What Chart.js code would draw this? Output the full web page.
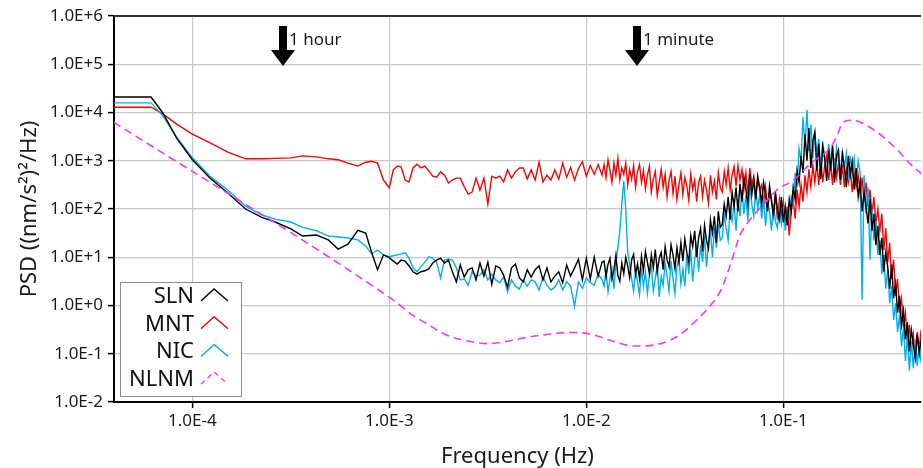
<!DOCTYPE html>
<html>
<head>
<meta charset="utf-8">
<title>PSD of three stations vs NLNM</title>
<script src="https://cdn.jsdelivr.net/npm/chart.js@4.4.0/dist/chart.umd.min.js"></script>
<style>
  html, body { margin: 0; padding: 0; background: #fff; }
  #chart { display: block; }
</style>
</head>
<body>
<canvas id="chart" width="923" height="468"></canvas>
<script>
// Frequency grid shared by the three stations, log10(Hz)
const freqExp = [
  -4.40, -4.21, -4.15, -4.08, -4.00, -3.91, -3.82, -3.73, -3.65, -3.58, -3.50, -3.44,
  -3.37, -3.31, -3.26, -3.21, -3.16, -3.12, -3.09, -3.06, -3.03, -3.00, -2.98, -2.96,
  -2.94, -2.92, -2.90, -2.88, -2.86, -2.84, -2.82, -2.80, -2.78, -2.76, -2.74, -2.72, -2.70,
  -2.68, -2.66, -2.64, -2.62, -2.60, -2.58, -2.56, -2.54, -2.52, -2.50, -2.48, -2.46, -2.44,
  -2.42, -2.40, -2.38, -2.36, -2.34, -2.32, -2.30, -2.28, -2.26, -2.24, -2.22, -2.20, -2.18,
  -2.16, -2.14, -2.12, -2.10, -2.08, -2.06, -2.04, -2.02, -2.00, -1.98, -1.96, -1.94, -1.92,
  -1.91, -1.90, -1.89, -1.88, -1.87, -1.86, -1.85, -1.84, -1.83, -1.82,
  -1.81, -1.80, -1.79, -1.78, -1.77, -1.76, -1.75, -1.74, -1.73, -1.72,
  -1.71, -1.70, -1.69, -1.68, -1.67, -1.66, -1.65, -1.64, -1.63, -1.62,
  -1.61, -1.60, -1.59, -1.58, -1.57, -1.56, -1.55, -1.54, -1.53, -1.52,
  -1.51, -1.50, -1.49, -1.48, -1.47, -1.46, -1.45, -1.44, -1.43, -1.42,
  -1.41, -1.40, -1.39, -1.38, -1.37, -1.36, -1.35, -1.34, -1.33, -1.32,
  -1.31, -1.30, -1.29, -1.28, -1.27, -1.26, -1.25, -1.24, -1.23, -1.22,
  -1.21, -1.20, -1.19, -1.18, -1.17, -1.16, -1.15, -1.14, -1.13, -1.12,
  -1.11, -1.10, -1.09, -1.08, -1.07, -1.06, -1.05, -1.04, -1.03, -1.02,
  -1.01, -1.00, -0.99, -0.98, -0.97, -0.96, -0.95, -0.94, -0.93, -0.92,
  -0.91, -0.90, -0.89, -0.88, -0.87, -0.86, -0.85, -0.84, -0.83, -0.82,
  -0.81, -0.80, -0.79, -0.78, -0.77, -0.76, -0.75, -0.74, -0.73, -0.72,
  -0.71, -0.70, -0.69, -0.68, -0.67, -0.66, -0.65, -0.64, -0.63, -0.62,
  -0.61, -0.60, -0.59, -0.58, -0.57, -0.56, -0.55, -0.54, -0.53, -0.52,
  -0.51, -0.50, -0.49, -0.48, -0.47, -0.46, -0.45, -0.44, -0.43, -0.42,
  -0.41, -0.40, -0.39, -0.38, -0.37, -0.36, -0.35, -0.34, -0.33, -0.32,
  -0.31, -0.30
];

// PSD, log10((nm/s^2)^2/Hz)
const slnExp = [
  4.32, 4.32, 3.99, 3.47, 3.02, 2.64, 2.33, 2.00, 1.83, 1.73, 1.59, 1.44,
  1.46, 1.36, 1.17, 1.27, 1.56, 1.50, 1.10, 0.74, 1.05, 0.99, 0.92, 0.86,
  0.94, 0.92, 0.82, 0.70, 0.65, 0.70, 0.72, 0.76, 0.88, 0.94, 0.98, 0.88, 0.94,
  0.70, 0.49, 0.84, 0.59, 0.74, 0.78, 0.53, 0.88, 0.61, 0.90, 0.44, 0.82, 0.78,
  0.63, 0.38, 0.78, 0.86, 0.57, 0.49, 0.74, 0.59, 0.74, 0.82, 0.53, 0.78, 0.49,
  0.61, 0.70, 0.47, 0.84, 0.61, 0.78, 0.96, 0.53, 0.98, 0.55, 1.00, 0.61, 0.90,
  0.92, 0.60, 0.85, 0.98, 0.55, 0.74, 1.04, 0.62, 0.50, 0.88,
  0.66, 1.00, 0.82, 0.58, 0.95, 1.06, 0.64, 0.86, 0.56, 1.02,
  0.72, 1.12, 0.90, 0.66, 1.05, 0.78, 1.16, 0.70, 0.98, 1.10,
  0.74, 1.22, 0.95, 0.80, 1.26, 1.05, 0.76, 1.20, 0.90, 1.30,
  0.92, 1.38, 1.10, 0.90, 1.45, 1.22, 1.55, 1.00, 1.40, 1.60,
  1.12, 1.66, 1.35, 1.18, 1.78, 1.50, 1.85, 1.30, 1.95, 1.62,
  1.68, 2.10, 1.85, 2.25, 1.78, 2.35, 2.05, 2.45, 1.95, 2.52,
  2.15, 2.66, 2.40, 2.10, 2.72, 2.30, 2.60, 2.20, 2.68, 2.45,
  2.10, 2.55, 2.30, 1.95, 2.48, 2.20, 1.85, 2.35, 2.00, 1.78,
  2.25, 1.72, 2.05, 1.66, 2.20, 1.95, 2.45, 2.20, 2.80, 2.55,
  3.10, 2.75, 3.55, 3.00, 3.68, 2.85, 3.40, 3.60, 2.80, 3.35,
  2.62, 3.30, 3.05, 2.58, 3.25, 2.80, 3.32, 2.55, 3.10, 3.22,
  2.60, 3.15, 2.85, 2.45, 3.10, 2.70, 2.98, 2.40, 2.85, 2.25,
  2.55, 1.95, 2.35, 2.05, 1.70, 2.20, 1.55, 1.90, 1.25, 1.65,
  1.05, 1.40, 0.70, 1.10, 0.80, 0.35, 0.85, 0.15, 0.45, -0.15,
  0.20, -0.40, -0.10, -0.70, -0.35, -0.95, -0.50, -0.80, -1.10, -0.60,
  -1.00, -0.70
];

const mntExp = [
  4.11, 4.11, 3.97, 3.76, 3.55, 3.37, 3.18, 3.04, 3.04, 3.05, 3.06, 3.10,
  3.08, 3.04, 3.02, 2.95, 2.89, 2.97, 2.99, 2.95, 2.60, 2.44, 2.81, 2.89,
  2.87, 2.60, 2.56, 2.85, 2.93, 2.85, 2.89, 2.79, 2.68, 2.66, 2.77, 2.70, 2.54,
  2.60, 2.64, 2.64, 2.46, 2.31, 2.35, 2.64, 2.39, 2.64, 2.10, 2.68, 2.64, 2.68,
  2.56, 2.81, 2.64, 2.77, 2.85, 2.85, 2.62, 2.81, 2.60, 2.97, 2.56, 2.70, 2.60,
  2.81, 2.62, 2.95, 2.66, 2.86, 2.60, 2.84, 2.98, 2.68, 2.90, 2.72, 2.92, 2.70,
  2.92, 2.65, 3.02, 2.80, 2.55, 2.95, 2.70, 3.05, 2.60, 2.85,
  2.72, 2.95, 2.50, 2.82, 2.62, 2.90, 2.45, 2.78, 2.92, 2.55,
  2.80, 2.42, 2.70, 2.88, 2.35, 2.62, 2.78, 2.28, 2.55, 2.82,
  2.45, 2.72, 2.25, 2.60, 2.78, 2.32, 2.68, 2.20, 2.50, 2.75,
  2.30, 2.65, 2.48, 2.18, 2.72, 2.40, 2.60, 2.15, 2.55, 2.68,
  2.25, 2.60, 2.40, 2.12, 2.70, 2.35, 2.58, 2.20, 2.75, 2.45,
  2.35, 2.78, 2.50, 2.85, 2.40, 2.70, 2.88, 2.48, 2.90, 2.60,
  2.82, 2.40, 2.75, 2.30, 2.85, 2.50, 2.68, 2.25, 2.62, 2.40,
  2.50, 2.10, 2.45, 1.98, 2.35, 2.15, 1.85, 2.30, 1.78, 2.20,
  1.85, 2.15, 1.65, 2.05, 1.45, 1.95, 2.20, 1.80, 2.40, 2.05,
  2.50, 2.15, 2.70, 2.35, 2.82, 2.45, 2.90, 2.55, 2.95, 2.50,
  3.05, 2.55, 2.90, 3.10, 2.60, 2.95, 2.50, 3.05, 2.65, 2.95,
  2.50, 2.92, 2.45, 2.85, 2.55, 2.80, 2.35, 2.75, 2.45, 2.70,
  2.30, 2.65, 2.15, 2.55, 2.05, 2.40, 1.90, 2.25, 1.70, 2.00,
  1.55, 1.90, 1.15, 1.60, 0.90, 1.30, 0.55, 0.95, 0.20, 0.55,
  -0.10, 0.15, -0.45, -0.15, -0.75, -0.40, -0.95, -0.60, -1.05, -0.55,
  -0.90, -0.50
];

const nicExp = [
  4.20, 4.20, 3.93, 3.49, 3.06, 2.68, 2.39, 2.06, 1.88, 1.79, 1.73, 1.62,
  1.55, 1.44, 1.42, 1.40, 1.36, 1.23, 1.07, 1.15, 1.05, 1.01, 1.03, 1.05,
  1.07, 1.09, 0.98, 0.78, 0.70, 0.80, 0.90, 1.01, 0.98, 0.90, 0.57, 0.94, 0.96,
  0.94, 0.78, 0.53, 0.55, 0.42, 0.70, 0.61, 0.63, 0.74, 0.53, 0.65, 0.53, 0.47,
  0.59, 0.28, 0.53, 0.40, 0.34, 0.53, 0.40, 0.53, 0.49, 0.32, 0.59, 0.42, 0.32,
  0.38, 0.53, 0.32, 0.49, 0.40, -0.01, 0.49, 0.36, 0.57, 0.47, 0.42, 0.65, 0.53,
  0.40, 0.72, 0.28, 0.55, 0.75, 0.35, 0.90, 1.20, 1.55, 2.10,
  2.58, 2.00, 1.10, 0.85, 0.55, 0.30, 0.72, 0.48, 0.22, 0.78,
  0.40, 0.70, 0.25, 0.62, 0.80, 0.30, 0.55, 0.85, 0.18, 0.60,
  0.42, 0.88, 0.60, 0.30, 0.92, 0.55, 0.25, 0.80, 1.00, 0.45,
  0.75, 0.40, 1.05, 0.65, 1.15, 0.50, 0.95, 1.22, 0.70, 1.25,
  0.90, 1.45, 0.80, 1.30, 1.55, 1.00, 1.62, 1.20, 1.70, 1.35,
  1.40, 1.90, 1.60, 1.35, 2.00, 1.75, 2.12, 1.55, 2.20, 1.85,
  2.40, 1.90, 2.30, 1.75, 2.48, 2.10, 1.85, 2.42, 2.00, 2.30,
  1.80, 2.25, 1.65, 2.15, 1.95, 1.55, 2.10, 1.75, 1.60, 2.05,
  1.70, 2.05, 1.55, 1.90, 1.80, 2.25, 2.10, 2.75, 2.45, 3.25,
  3.00, 3.90, 3.30, 4.05, 3.20, 3.75, 3.05, 3.60, 3.15, 3.45,
  2.80, 3.40, 3.05, 2.70, 3.35, 2.95, 3.30, 2.75, 3.28, 3.00,
  2.70, 3.20, 2.85, 3.15, 2.60, 3.10, 2.75, 3.05, 2.55, 3.00,
  2.75, 0.12, 2.70, 1.90, 2.45, 0.95, 2.00, 1.35, 1.75, 1.05,
  1.35, 0.65, 1.05, 0.35, 0.75, 0.05, 0.40, -0.30, 0.05, -0.55,
  -0.20, -0.85, -0.45, -1.15, -0.60, -1.35, -0.75, -1.30, -0.70, -1.25,
  -0.80, -1.20
];

// New Low Noise Model, log10(Hz) and log10(PSD)
const nlnmFreqExp = [
  -4.40, -3.00, -2.95, -2.89, -2.83, -2.77, -2.70, -2.60, -2.50, -2.40, -2.30, -2.20,
  -2.09, -1.98, -1.88, -1.76, -1.62, -1.52, -1.44, -1.36, -1.31, -1.26, -1.22, -1.17,
  -1.08, -1.02, -0.96, -0.86, -0.76, -0.73, -0.70, -0.66, -0.61, -0.52, -0.42, -0.36, -0.29
];
const nlnmExp = [
  3.80, 0.17, 0.02, -0.18, -0.33, -0.48, -0.63, -0.74, -0.79, -0.74, -0.66, -0.60,
  -0.56, -0.59, -0.72, -0.84, -0.79, -0.59, -0.30, 0.05, 0.38, 0.96, 1.46, 1.77,
  2.19, 2.44, 2.56, 2.95, 3.28, 3.49, 3.78, 3.84, 3.80, 3.58, 3.22, 2.95, 2.70
];

const xTickValues = [1e-4, 1e-3, 1e-2, 1e-1];
const xTickLabels = ['1.0E-4', '1.0E-3', '1.0E-2', '1.0E-1'];
const yTickValues = [1e-2, 1e-1, 1e0, 1e1, 1e2, 1e3, 1e4, 1e5, 1e6];
const yTickLabels = ['1.0E-2', '1.0E-1', '1.0E+0', '1.0E+1', '1.0E+2', '1.0E+3', '1.0E+4', '1.0E+5', '1.0E+6'];

// period markers
const markFreqs = [2.9e-4, 1.8e-2];
const markLabels = ['1 hour', '1 minute'];

const FONT = '"Noto Sans", "DejaVu Sans", sans-serif';
Chart.defaults.font.family = FONT;
Chart.defaults.color = '#1a1a1a';

function toPoints(fx, py) {
  return fx.map(function (f, i) {
    return { x: Math.pow(10, f), y: Math.pow(10, py[i]) };
  });
}

// top border of the plot frame
const frameTop = {
  id: 'frameTop',
  afterDraw(chart) {
    const { ctx, chartArea } = chart;
    ctx.save();
    ctx.strokeStyle = '#333';
    ctx.lineWidth = 2;
    ctx.beginPath();
    ctx.moveTo(chartArea.left, chartArea.top);
    ctx.lineTo(chartArea.right, chartArea.top);
    ctx.stroke();
    ctx.restore();
  }
};

// "1 hour" / "1 minute" arrows
const arrowMarks = {
  id: 'arrowMarks',
  afterDraw(chart) {
    const { ctx, chartArea, scales } = chart;
    const t = chartArea.top;
    ctx.save();
    markFreqs.forEach(function (f, i) {
      const x = Math.round(scales.x.getPixelForValue(f));
      ctx.fillStyle = '#000';
      ctx.fillRect(x - 4, t + 10, 8, 25);
      ctx.beginPath();
      ctx.moveTo(x - 12, t + 34);
      ctx.lineTo(x + 12, t + 34);
      ctx.lineTo(x, t + 50);
      ctx.closePath();
      ctx.fill();
      ctx.fillStyle = '#1a1a1a';
      ctx.font = '17px ' + FONT;
      ctx.textAlign = 'left';
      ctx.textBaseline = 'alphabetic';
      ctx.fillText(markLabels[i], x + 6, t + 29);
    });
    ctx.restore();
  }
};

// legend box inside the plot, text left of a small zigzag sample
const legendInside = {
  id: 'legendInside',
  afterDraw(chart) {
    const { ctx, chartArea } = chart;
    const boxW = 121, boxH = 114;
    const x0 = chartArea.left + 6;
    const y0 = chartArea.bottom - 6 - boxH;
    ctx.save();
    ctx.fillStyle = '#fff';
    ctx.fillRect(x0, y0, boxW, boxH);
    ctx.strokeStyle = '#8c8c8c';
    ctx.lineWidth = 1;
    ctx.strokeRect(x0 + 0.5, y0 + 0.5, boxW, boxH);
    ctx.font = '22px ' + FONT;
    ctx.textAlign = 'right';
    ctx.textBaseline = 'alphabetic';
    chart.data.datasets.forEach(function (ds, i) {
      const cy = y0 + 13 + i * 27.7;
      ctx.fillStyle = '#111';
      ctx.fillText(ds.label, x0 + 74, cy + 8);
      ctx.strokeStyle = ds.borderColor;
      ctx.lineWidth = 1.4;
      ctx.setLineDash(ds.borderDash ? [5, 4] : []);
      ctx.beginPath();
      ctx.moveTo(x0 + 81, cy + 6);
      ctx.lineTo(x0 + 94, cy - 6);
      ctx.lineTo(x0 + 108, cy + 6);
      ctx.stroke();
    });
    ctx.restore();
  }
};

const gridStyle = {
  color: '#c8c8c8',
  lineWidth: 1.2,
  tickColor: '#000',
  tickLength: 6,
  tickWidth: 1.5
};

new Chart(document.getElementById('chart'), {
  type: 'line',
  data: {
    datasets: [
      { label: 'SLN', data: toPoints(freqExp, slnExp), borderColor: '#000000', order: 1 },
      { label: 'MNT', data: toPoints(freqExp, mntExp), borderColor: '#ff0000', order: 3 },
      { label: 'NIC', data: toPoints(freqExp, nicExp), borderColor: '#00b0f0', order: 2 },
      {
        label: 'NLNM', data: toPoints(nlnmFreqExp, nlnmExp), borderColor: '#ff33ff', order: 0,
        borderDash: [8, 5], borderWidth: 1.6, cubicInterpolationMode: 'monotone'
      }
    ]
  },
  options: {
    responsive: false,
    animation: false,
    devicePixelRatio: 1,
    layout: { padding: { left: 0, right: 2, top: 16, bottom: 0 } },
    elements: {
      point: { radius: 0 },
      line: { borderWidth: 1.4, tension: 0 }
    },
    plugins: {
      legend: { display: false },
      tooltip: { enabled: false }
    },
    scales: {
      x: {
        type: 'logarithmic',
        min: 4e-5,
        max: 0.5,
        afterBuildTicks: function (scale) {
          scale.ticks = xTickValues.map(function (v) { return { value: v }; });
        },
        afterFit: function (scale) { scale.height = 66; },
        grid: gridStyle,
        border: { color: '#000', width: 2 },
        ticks: {
          autoSkip: false,
          maxRotation: 0,
          padding: 3,
          font: { size: 17 },
          color: '#1a1a1a',
          callback: function (v, i) { return xTickLabels[i]; }
        },
        title: {
          display: true,
          text: 'Frequency (Hz)',
          font: { size: 22, lineHeight: 1 },
          color: '#1a1a1a',
          padding: { top: 0, bottom: 0 }
        }
      },
      y: {
        type: 'logarithmic',
        min: 1e-2,
        max: 1e6,
        afterBuildTicks: function (scale) {
          scale.ticks = yTickValues.map(function (v) { return { value: v }; });
        },
        afterFit: function (scale) { scale.width = 114; },
        grid: gridStyle,
        border: { color: '#000', width: 2 },
        ticks: {
          autoSkip: false,
          padding: 5,
          font: { size: 17 },
          color: '#1a1a1a',
          callback: function (v, i) { return yTickLabels[i]; }
        },
        title: {
          display: true,
          text: 'PSD ((nm/s²)²/Hz)',
          font: { size: 22, lineHeight: 1 },
          color: '#1a1a1a',
          padding: { top: 19, bottom: 0 }
        }
      }
    }
  },
  plugins: [frameTop, arrowMarks, legendInside]
});
</script>
</body>
</html>
